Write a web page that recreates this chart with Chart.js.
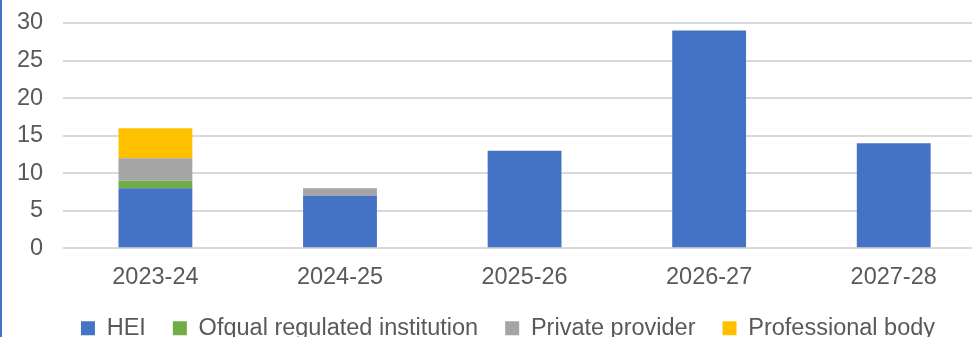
<!DOCTYPE html>
<html>
<head>
<meta charset="utf-8">
<script src="https://cdn.jsdelivr.net/npm/chart.js@4/dist/chart.umd.min.js"></script>
<style>
  html, body { margin: 0; padding: 0; background: #fff; overflow: hidden; }
  #edge { position: absolute; left: 0; top: 0; width: 2px; height: 337px; background: #4472c4; }
  #wrap { position: relative; width: 1018px; height: 350px; }
</style>
</head>
<body>
<div id="wrap"><canvas id="myChart"></canvas></div>
<div id="edge"></div>
<script>
const years = ["2023-24", "2024-25", "2025-26", "2026-27", "2027-28"];
const hei = [8, 7, 13, 29, 14];
const ofqual = [1, 0, 0, 0, 0];
const privateProvider = [3, 1, 0, 0, 0];
const professionalBody = [4, 0, 0, 0, 0];
const yTicks = [0, 5, 10, 15, 20, 25, 30];

const textColor = "#595959";
const font = { family: "'Liberation Sans', Arial, sans-serif", size: 23.5 };

const data = {
    labels: years,
    datasets: [
        { label: "HEI", data: hei, backgroundColor: "#4472c4" },
        { label: "Ofqual regulated institution", data: ofqual, backgroundColor: "#70ad47" },
        { label: "Private provider", data: privateProvider, backgroundColor: "#a5a5a5" },
        { label: "Professional body", data: professionalBody, backgroundColor: "#ffc000" },
    ],
};

// nudge the legend a little to the right of the canvas centre
const legendShift = {
    id: "legendShift",
    afterLayout(chart) {
        chart.legend.left += 7;
        chart.legend.right += 7;
    },
};

const config = {
    type: "bar",
    data,
    options: {
        responsive: true,
        maintainAspectRatio: false,
        animation: false,
        datasets: {
            bar: { barPercentage: 0.4, categoryPercentage: 1 },
        },
        layout: {
            padding: { left: 16, right: 32, top: 23, bottom: 0 },
        },
        plugins: {
            tooltip: { enabled: false },
            legend: {
                position: "bottom",
                labels: {
                    color: textColor,
                    font,
                    boxWidth: 14,
                    boxHeight: 14,
                    padding: 27,
                },
            },
        },
        scales: {
            x: {
                stacked: true,
                grid: { display: false },
                border: { display: false },
                ticks: { color: textColor, font, padding: 7, maxRotation: 0 },
                // let the year labels sit into the space above the legend
                afterFit: (axis) => { axis.height -= 9; },
            },
            y: {
                stacked: true,
                min: yTicks[0],
                max: yTicks[yTicks.length - 1],
                afterBuildTicks: (axis) => { axis.ticks = yTicks.map((v) => ({ value: v })); },
                afterFit: (axis) => {
                    axis.width -= 19;
                    axis.paddingTop = 0;
                    axis.paddingBottom = 0;
                },
                grid: { color: "#d9d9d9", lineWidth: 2, drawTicks: false },
                border: { display: false },
                ticks: { color: textColor, font, padding: 20 },
            },
        },
    },
    plugins: [legendShift],
};

const myChart = new Chart(document.getElementById("myChart"), config);
</script>
</body>
</html>
